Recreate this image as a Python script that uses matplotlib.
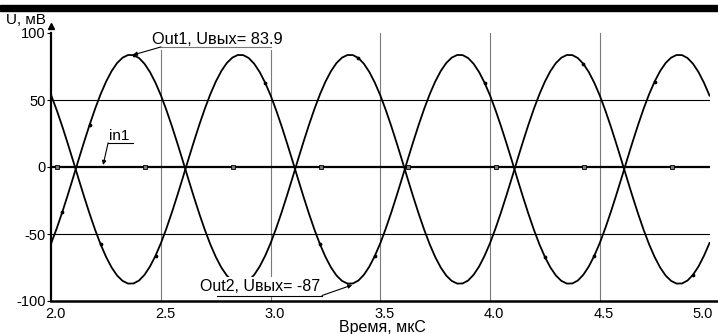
import numpy as np
import matplotlib
matplotlib.use("Agg")
import matplotlib.pyplot as plt
from matplotlib.lines import Line2D
from matplotlib.patches import Rectangle
from matplotlib.transforms import ScaledTranslation

# ---------------- data ----------------
time_us = np.linspace(2.0, 5.0, 121)

out1_mV = [
    -56.7, -45.7, -33.7, -20.9, -7.7, 5.8, 19.0, 31.7, 43.6, 54.4,
    63.8, 71.6, 77.6, 81.6, 83.6, 83.5, 81.3, 77.0, 70.8, 62.8,
    53.3, 42.3, 30.3, 17.5, 4.3, -9.2, -22.4, -35.1, -47.0, -57.8,
    -67.2, -75.0, -81.0, -85.0, -87.0, -86.9, -84.7, -80.4, -74.2, -66.2,
    -56.7, -45.7, -33.7, -20.9, -7.7, 5.8, 19.0, 31.7, 43.6, 54.4,
    63.8, 71.6, 77.6, 81.6, 83.6, 83.5, 81.3, 77.0, 70.8, 62.8,
    53.3, 42.3, 30.3, 17.5, 4.3, -9.2, -22.4, -35.1, -47.0, -57.8,
    -67.2, -75.0, -81.0, -85.0, -87.0, -86.9, -84.7, -80.4, -74.2, -66.2,
    -56.7, -45.7, -33.7, -20.9, -7.7, 5.8, 19.0, 31.7, 43.6, 54.4,
    63.8, 71.6, 77.6, 81.6, 83.6, 83.5, 81.3, 77.0, 70.8, 62.8,
    53.3, 42.3, 30.3, 17.5, 4.3, -9.2, -22.4, -35.1, -47.0, -57.8,
    -67.2, -75.0, -81.0, -85.0, -87.0, -86.9, -84.7, -80.4, -74.2, -66.2,
    -56.7,
]

out2_mV = [
    53.3, 42.3, 30.3, 17.5, 4.3, -9.2, -22.4, -35.1, -47.0, -57.8,
    -67.2, -75.0, -81.0, -85.0, -87.0, -86.9, -84.7, -80.4, -74.2, -66.2,
    -56.7, -45.7, -33.7, -20.9, -7.7, 5.8, 19.0, 31.7, 43.6, 54.4,
    63.8, 71.6, 77.6, 81.6, 83.6, 83.5, 81.3, 77.0, 70.8, 62.8,
    53.3, 42.3, 30.3, 17.5, 4.3, -9.2, -22.4, -35.1, -47.0, -57.8,
    -67.2, -75.0, -81.0, -85.0, -87.0, -86.9, -84.7, -80.4, -74.2, -66.2,
    -56.7, -45.7, -33.7, -20.9, -7.7, 5.8, 19.0, 31.7, 43.6, 54.4,
    63.8, 71.6, 77.6, 81.6, 83.6, 83.5, 81.3, 77.0, 70.8, 62.8,
    53.3, 42.3, 30.3, 17.5, 4.3, -9.2, -22.4, -35.1, -47.0, -57.8,
    -67.2, -75.0, -81.0, -85.0, -87.0, -86.9, -84.7, -80.4, -74.2, -66.2,
    -56.7, -45.7, -33.7, -20.9, -7.7, 5.8, 19.0, 31.7, 43.6, 54.4,
    63.8, 71.6, 77.6, 81.6, 83.6, 83.5, 81.3, 77.0, 70.8, 62.8,
    53.3,
]

out1_dot_idx = [2, 7, 15, 56, 97, 117]
out2_dot_idx = [9, 19, 39, 49, 59, 79, 90, 99, 110]

in1_time_us = [2.0, 2.027, 2.427, 2.827, 3.227, 3.627, 4.027, 4.427, 4.827, 5.0]
in1_mV = [0, 0, 0, 0, 0, 0, 0, 0, 0, 0]

x_ticks = [2.0, 2.5, 3.0, 3.5, 4.0, 4.5, 5.0]
x_tick_labels = ["2.0", "2.5", "3.0", "3.5", "4.0", "4.5", "5.0"]
y_ticks = [-100, -50, 0, 50, 100]
y_tick_labels = ["-100", "-50", "0", "50", "100"]
v_grid = [2.5, 3.0, 3.5, 4.0, 4.5]
h_grid = [-50, 50]

out1_label = "Out1, Uвых= 83.9"
out2_label = "Out2, Uвых= -87"
in1_label = "in1"
x_title = "Время, мкС"
y_title = "U, мВ"

# ---------------- figure ----------------
plt.rcParams["font.family"] = ["Liberation Sans", "DejaVu Sans"]
W, H = 718, 334
fig = plt.figure(figsize=(W / 100, H / 100), dpi=100)
ax = fig.add_axes([51.3 / W, 33 / H, 658.2 / W, 268 / H])
ax.set_xlim(2.0, 5.0)
ax.set_ylim(-100, 100)

# grid
for gx in v_grid:
    ax.axvline(gx, color="#7a7a7a", lw=0.8, zorder=1)
for gy in h_grid:
    ax.axhline(gy, color="black", lw=0.8, zorder=1)

# curves
ax.plot(time_us, out1_mV, color="black", lw=1.3, zorder=3,
        marker="o", ms=1.7, markevery=out1_dot_idx)
ax.plot(time_us, out2_mV, color="black", lw=1.3, zorder=3,
        marker="o", ms=1.7, markevery=out2_dot_idx)
ax.plot(in1_time_us, in1_mV, color="black", lw=1.6, zorder=3,
        marker="s", ms=2.8, mfc="#777777", mec="black", mew=0.6,
        markevery=list(range(1, 9)))

# spines
for s in ["top", "right", "bottom"]:
    ax.spines[s].set_visible(False)
ax.spines["left"].set_linewidth(1.6)
fig.add_artist(Line2D([51.3 / W, 1.0], [33 / H, 33 / H], color="black",
                      lw=1.8, transform=fig.transFigure))
ax.plot([0], [1.025], marker="^", ms=4.5, color="black",
        transform=ax.transAxes, clip_on=False, zorder=5)

# ticks
ax.set_xticks(x_ticks)
ax.set_xticklabels(x_tick_labels)
ax.set_yticks(y_ticks)
ax.set_yticklabels(y_tick_labels)
ax.tick_params(axis="x", length=0, pad=4, labelsize=10.5)
ax.tick_params(axis="y", length=3, width=0.8, pad=1, labelsize=10.5)
off = ScaledTranslation(4 / 100, 0, fig.dpi_scale_trans)
for lab in ax.get_xticklabels()[:-1]:
    lab.set_transform(lab.get_transform() + off)
last = ax.get_xticklabels()[-1]
last.set_transform(last.get_transform() + ScaledTranslation(-7 / 100, 0, fig.dpi_scale_trans))

# titles
fig.text(382 / W, (H - 332) / H, x_title, ha="center", va="baseline", fontsize=11.5)
fig.text(6 / W, (H - 24) / H, y_title, ha="left", va="baseline", fontsize=11)

# top black bar
fig.add_artist(Rectangle((0, (H - 10.5) / H), 1, 5.5 / H, transform=fig.transFigure,
                         color="black", zorder=10))

# annotations
arrow = dict(arrowstyle="-|>", lw=0.8, color="black", mutation_scale=6,
             shrinkA=0, shrinkB=0)
ax.text(2.46, 91.5, out1_label, fontsize=11.8, ha="left", va="baseline", zorder=6,
        bbox=dict(boxstyle="square,pad=0.15", fc="white", ec="none"), clip_on=False)
ax.plot([2.5, 3.0], [89.6, 89.6], color="#7a7a7a", lw=0.8, zorder=7, clip_on=False)
ax.annotate("", xy=(2.372, 83.6), xytext=(2.5, 89.6), arrowprops=arrow, zorder=7)

ax.text(2.678, -92.9, out2_label, fontsize=11.5, ha="left", va="baseline", zorder=6,
        bbox=dict(boxstyle="square,pad=0.15", fc="white", ec="none"))
ax.plot([2.756, 3.234], [-95.9, -95.9], color="black", lw=0.8, zorder=7)
ax.annotate("", xy=(3.372, -88.0), xytext=(3.234, -95.9), arrowprops=arrow, zorder=7)

ax.text(2.263, 20.3, in1_label, fontsize=11, ha="left", va="baseline", zorder=6)
ax.plot([2.259, 2.372], [18.0, 18.0], color="black", lw=0.8, zorder=7)
ax.annotate("", xy=(2.236, 1.5), xytext=(2.259, 18.0), arrowprops=arrow, zorder=7)

fig.savefig("out.png", dpi=100)
